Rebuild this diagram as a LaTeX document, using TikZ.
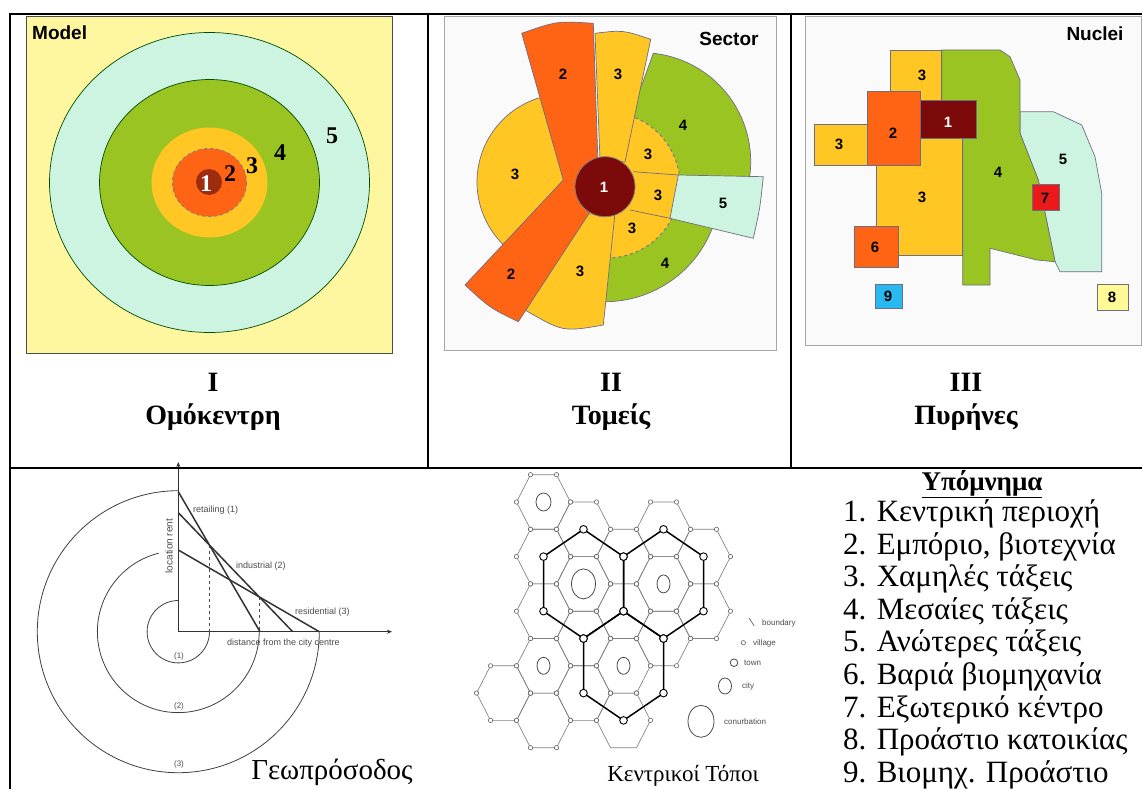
\documentclass[tikz,border=0pt]{standalone}
\usepackage{fontspec}
\setmainfont{Liberation Serif}
\setsansfont{Liberation Sans}
\usetikzlibrary{arrows.meta}
\definecolor{cYel}{RGB}{255,246,160}
\definecolor{cMint}{RGB}{204,244,224}
\definecolor{cGrn}{RGB}{153,196,33}
\definecolor{cOr}{RGB}{255,198,36}
\definecolor{cRed}{RGB}{255,99,20}
\definecolor{cBrn}{RGB}{158,45,15}
\definecolor{cMar}{RGB}{125,10,10}
\definecolor{cR7}{RGB}{235,25,25}
\definecolor{cBlu}{RGB}{40,185,240}
\definecolor{cPY}{RGB}{255,250,150}
\definecolor{cEdge}{RGB}{110,110,130}
\definecolor{cPanel}{RGB}{250,250,250}
\begin{document}
\begin{tikzpicture}[x=1pt,y=-1pt,
  rule/.style={line width=2pt,black},
  zone/.style={draw=cEdge,line width=0.7pt},
  mnum/.style={font=\bfseries\fontsize{24}{24}\selectfont,inner sep=0pt},
  snum/.style={font=\sffamily\bfseries\fontsize{15}{15}\selectfont,inner sep=0pt},
  ttl/.style={font=\sffamily\bfseries\fontsize{19}{19}\selectfont,inner sep=0pt},
  capt/.style={font=\bfseries\fontsize{28}{28}\selectfont,inner sep=0pt},
  lbl/.style={font=\fontsize{31}{31}\selectfont,inner sep=0pt},
  tinyl/.style={font=\sffamily\fontsize{9}{9}\selectfont,text=black!70,inner sep=0pt},
  thinhex/.style={draw=black!50,line width=0.65pt},
  mkt/.style={draw=black,line width=1.5pt},
  vil/.style={draw=black!60,fill=white,line width=0.6pt},
  town/.style={draw=black,fill=white,line width=0.9pt},
  cityc/.style={draw=black!70,line width=0.8pt},
  ring/.style={draw=black!75,line width=0.8pt},
  rentl/.style={draw=black!80,line width=1.5pt},
  axisl/.style={draw=black!80,line width=0.8pt,-{Stealth[length=5pt,width=4pt]}},
]
\useasboundingbox (0,0) rectangle (1142,789);
\fill[white] (0,0) rectangle (1142,789);

% ================= Model (concentric) =================
\filldraw[fill=cYel,draw=black!70,line width=0.8pt] (26,16) rectangle (392,353);
\filldraw[fill=cMint,draw=black!70!green,line width=0.7pt] (209.5,182.5) ellipse [x radius=160,y radius=150];
\filldraw[fill=cGrn,draw=black!70!green,line width=0.7pt] (209.5,182.5) ellipse [x radius=110,y radius=103];
\fill[cOr] (209.5,182.5) ellipse [x radius=58,y radius=55];
\fill[cRed] (209.5,182.5) ellipse [x radius=37,y radius=34];
\draw[black!50,dashed,line width=1pt] (209.5,182.5) ellipse [x radius=37,y radius=34];
\fill[cBrn] (209,182) circle (13);
\node[ttl,anchor=west] (mtitle) at (32,33) {Model};
\node[mnum,text=white] (m1) at (206,184) {1};
\node[mnum] (m2) at (230,174) {2};
\node[mnum] (m3) at (252,166) {3};
\node[mnum] (m4) at (280,153) {4};
\node[mnum] (m5) at (332,136) {5};

% ================= Sector =================
\filldraw[fill=cPanel,draw=black!35,line width=1pt] (444,17) rectangle (776,350);
\filldraw[fill=cOr,zone] (565,182) -- ++(-105:88) arc[start angle=-105,end angle=-228,radius=88] -- cycle;
\filldraw[fill=cGrn,zone] (605,186.7) -- (653.3,53.3) arc[start angle=-83.9,end angle=7.7,radius=109] -- cycle;
\filldraw[fill=cGrn,zone] (605,186.7) -- ++(15:115) arc[start angle=15,end angle=100,radius=115] -- cycle;
\fill[cOr] (607,185) -- ++(-72:73) arc[start angle=-72,end angle=95,radius=73] -- cycle;
\draw[black!50,dashed,line width=1.1pt] (607,185) ++(-72:73) arc[start angle=-72,end angle=95,radius=73];
\draw[zone] (633.3,171.7) -- (678.3,175);
\draw[zone] (630,210) -- (670,218.3);
\filldraw[fill=cMint,zone] (678.3,175) -- (763.3,176.7) .. controls (760,208) .. (753.3,238.3) -- (670,218.3) -- cycle;
\filldraw[fill=cOr,zone] (600,160) -- (595,33.3) .. controls (623,30) .. (650.7,39.3) -- (625,162) -- cycle;
\filldraw[fill=cOr,zone] (586.7,214) -- (525,310) .. controls (563,332) .. (603.3,325) -- (615,213) -- cycle;
\filldraw[fill=cRed,zone] (521.7,33.3) .. controls (557,21) .. (593.3,23.3) -- (598,165) -- (605,186.7) -- (588,215) -- (518.3,321.7) .. controls (490,308) .. (465,285) -- (563.3,180) -- cycle;
\filldraw[fill=cMar,draw=black!50,line width=0.8pt] (605,186.7) circle (30);
\node[ttl] (stitle) at (729,39) {Sector};
\node[snum] (s2a) at (563,74) {2};
\node[snum] (s3a) at (618,74) {3};
\node[snum] (s4a) at (683,125) {4};
\node[snum] (s3b) at (515,174) {3};
\node[snum] (s3c) at (648,154) {3};
\node[snum,text=white] (s1) at (604,187) {1};
\node[snum] (s3d) at (658,195) {3};
\node[snum] (s5) at (723,203) {5};
\node[snum] (s3e) at (632,228) {3};
\node[snum] (s4b) at (665,263) {4};
\node[snum] (s2b) at (511,274) {2};
\node[snum] (s3f) at (580,271) {3};

% ================= Nuclei =================
\filldraw[fill=cPanel,draw=black!35,line width=1pt] (805,17) rectangle (1141,345);
\filldraw[fill=cMint,zone] (1020,111.7) -- (1053.3,111.7) -- (1081.7,125) -- (1095,156.7) -- (1101.7,193.3) -- (1101.7,271.7) -- (1060,271.7) -- (1055,261.7) -- (1038.3,180) -- (1020,133.3) -- cycle;
\filldraw[fill=cGrn,zone] (941.7,50) -- (1000,50) -- (1010,56.7) -- (1020,80) -- (1020,133.3) -- (1038.3,180) -- (1055,261.7) -- (1036.7,260) -- (990,248.3) -- (990,285) -- (962.7,285) -- (962.7,110) -- (941.7,110) -- cycle;
\filldraw[fill=cOr,zone] (890,50) rectangle (941.7,100);
\filldraw[fill=cOr,zone] (876.7,138) rectangle (962.7,255);
\filldraw[fill=cOr,zone] (814.3,124) rectangle (867.3,165);
\filldraw[fill=cRed,zone] (867.3,91.7) rectangle (920,165);
\filldraw[fill=cMar,zone] (920,100) rectangle (976.7,138.3);
\filldraw[fill=cRed,zone] (854.3,226.7) rectangle (898.3,267.7);
\filldraw[fill=cR7,zone] (1032.3,184.3) rectangle (1059.3,210.7);
\filldraw[fill=cBlu,zone] (875,284) rectangle (902.3,308.3);
\filldraw[fill=cPY,zone] (1097.3,284.3) rectangle (1128.3,310.7);
\node[ttl] (ntitle) at (1095,34) {Nuclei};
\node[snum] (n3a) at (922,75) {3};
\node[snum] (n2) at (893,133) {2};
\node[snum,text=white] (n1) at (948,122) {1};
\node[snum] (n3b) at (839,144) {3};
\node[snum] (n3c) at (922,197) {3};
\node[snum] (n4) at (998,172) {4};
\node[snum] (n5) at (1063,159) {5};
\node[snum] (n7) at (1045,198) {7};
\node[snum] (n6) at (875,247) {6};
\node[snum] (n9) at (888,296) {9};
\node[snum] (n8) at (1112,297) {8};

% ================= captions top row =================
\node[capt] (c1a) at (213,382) {I};
\node[capt] (c1b) at (213,417) {Ομόκεντρη};
\node[capt] (c2a) at (611,382) {II};
\node[capt] (c2b) at (611,417) {Τομείς};
\node[capt] (c3a) at (966,382) {III};
\node[capt] (c3b) at (966,417) {Πυρήνες};

% ================= Bid rent =================
\coordinate (O) at (178.3,631.7);
\coordinate (ytop) at (178.3,462);
\coordinate (xend) at (392,631.7);
\draw[axisl] (O) -- (ytop);
\draw[axisl] (O) -- (xend);
\draw[ring] (178.3,600.5) arc[start angle=-90,end angle=-360,radius=31.2];
\draw[ring] (O) ++(-104:80.9) arc[start angle=-104,end angle=-360,radius=80.9];
\draw[ring] (178.3,490.7) arc[start angle=-90,end angle=-360,radius=141];
\draw[black!70,dashed,line width=0.8pt] (209.5,545.2) -- (209.5,631.7);
\draw[black!70,dashed,line width=0.8pt] (259.2,596.9) -- (259.2,631.7);
\draw[rentl] (178.3,491.7) -- (260,631.7);
\draw[rentl] (178.3,512.7) -- (292.7,631.7);
\draw[rentl] (178.3,550) -- (319.3,631.7);
\node[tinyl,anchor=west] (tret) at (193,510) {retailing (1)};
\node[tinyl,anchor=west] (tind) at (236,566) {industrial (2)};
\node[tinyl,anchor=west] (tres) at (295,612) {residential (3)};
\node[tinyl,anchor=west] (tdist) at (227,643) {distance from the city centre};
\node[tinyl,rotate=90,font=\sffamily\fontsize{10}{10}\selectfont] (trent) at (169,546) {location rent};
\node[tinyl,font=\sffamily\fontsize{8}{8}\selectfont] (r1) at (179,656) {(1)};
\node[tinyl,font=\sffamily\fontsize{8}{8}\selectfont] (r2) at (179,706) {(2)};
\node[tinyl,font=\sffamily\fontsize{8}{8}\selectfont] (r3) at (179,764) {(3)};
\node[inner sep=0pt,font=\fontsize{29}{29}\selectfont] (geo) at (332,772) {Γεωπρόσοδος};

% ================= Central places =================
\foreach \cx/\cy in {503.5/693.1, 543.5/502, 543.5/556.6, 543.5/611.2, 543.5/665.8, 543.5/720.4,
  583.5/529.3, 583.5/583.9, 583.5/638.5, 583.5/693.1, 623.5/556.6, 623.5/611.2, 623.5/665.8, 623.5/720.4,
  663.5/529.3, 663.5/583.9, 663.5/638.5, 703.5/556.6, 703.5/611.2}{
  \draw[thinhex] (\cx-13,\cy-27.3) -- (\cx+13,\cy-27.3) -- (\cx+27,\cy) -- (\cx+13,\cy+27.3) -- (\cx-13,\cy+27.3) -- (\cx-27,\cy) -- cycle;
}
\foreach \cx/\cy in {583.5/583.9, 663.5/583.9, 623.5/665.8}{
  \draw[mkt] (\cx,\cy-54.6) -- (\cx+40,\cy-27.3) -- (\cx+40,\cy+27.3) -- (\cx,\cy+54.6) -- (\cx-40,\cy+27.3) -- (\cx-40,\cy-27.3) -- cycle;
}
\foreach \cx/\cy in {503.5/693.1, 543.5/502, 543.5/556.6, 543.5/611.2, 543.5/665.8, 543.5/720.4,
  583.5/529.3, 583.5/583.9, 583.5/638.5, 583.5/693.1, 623.5/556.6, 623.5/611.2, 623.5/665.8,
  663.5/529.3, 663.5/583.9, 663.5/638.5, 703.5/556.6, 703.5/611.2}{
  \foreach \dx/\dy in {-13/-27.3, 13/-27.3, 27/0, 13/27.3, -13/27.3, -27/0}{
    \filldraw[vil] (\cx,\cy) ++(\dx,\dy) circle (2.2);
  }
}
\foreach \dx/\dy in {-13/-27.3, 13/-27.3, 27/0, -27/0}{
  \filldraw[vil] (623.5,720.4) ++(\dx,\dy) circle (2.2);
}
\foreach \cx/\cy in {583.5/583.9, 663.5/583.9, 623.5/665.8}{
  \foreach \dx/\dy in {0/-54.6, 40/-27.3, 40/27.3, 0/54.6, -40/27.3, -40/-27.3}{
    \filldraw[town] (\cx,\cy) ++(\dx,\dy) circle (3.8);
  }
}
\draw[cityc] (543.5,502) ellipse [x radius=7.5,y radius=9];
\draw[cityc] (583.5,583.9) ellipse [x radius=12,y radius=15];
\draw[cityc] (663.5,583.9) ellipse [x radius=6.5,y radius=9];
\draw[cityc] (543.5,665.8) ellipse [x radius=6.5,y radius=8.5];
\draw[cityc] (623.5,665.8) ellipse [x radius=6.5,y radius=8.5];
\draw[black!60,line width=0.7pt] (749,618) -- (754.3,626);
\node[tinyl,anchor=west,font=\sffamily\fontsize{8}{8}\selectfont] (kb) at (762,623.5) {boundary};
\filldraw[vil] (743.3,642.7) circle (2.2);
\node[tinyl,anchor=west,font=\sffamily\fontsize{8}{8}\selectfont] (kv) at (753,643) {village};
\filldraw[draw=black!70,fill=white,line width=0.8pt] (734,662.7) circle (3.8);
\node[tinyl,anchor=west,font=\sffamily\fontsize{8}{8}\selectfont] (kt) at (744,663) {town};
\draw[cityc] (725,686) ellipse [x radius=6.5,y radius=8];
\node[tinyl,anchor=west,font=\sffamily\fontsize{8}{8}\selectfont] (kc) at (742,686) {city};
\draw[cityc] (701,721.3) ellipse [x radius=13,y radius=16];
\node[tinyl,anchor=west,font=\sffamily\fontsize{8}{8}\selectfont] (kcon) at (724,721.5) {conurbation};
\node[inner sep=0pt,font=\fontsize{23}{23}\selectfont] (kent) at (683,776) {Κεντρικοί Τόποι};

% ================= Legend =================
\node[inner sep=0pt,anchor=base,font=\bfseries\fontsize{27}{27}\selectfont] (leg) at (982,490) {\underline{Υπόμνημα}};
\node[lbl,anchor=base west] (l1) at (843,521.5) {1. Κεντρική περιοχή};
\node[lbl,anchor=base west] (l2) at (843,554.1) {2. Εμπόριο, βιοτεχνία};
\node[lbl,anchor=base west] (l3) at (843,586.7) {3. Χαμηλές τάξεις};
\node[lbl,anchor=base west] (l4) at (843,619.3) {4. Μεσαίες τάξεις};
\node[lbl,anchor=base west] (l5) at (843,651.9) {5. Ανώτερες τάξεις};
\node[lbl,anchor=base west] (l6) at (843,684.5) {6. Βαριά βιομηχανία};
\node[lbl,anchor=base west] (l7) at (843,717.1) {7. Εξωτερικό κέντρο};
\node[lbl,anchor=base west] (l8) at (843,749.7) {8. Προάστιο κατοικίας};
\node[lbl,anchor=base west] (l9) at (843,782.3) {9. Βιομηχ. Προάστιο};

% ================= Table rules =================
\draw[rule] (10,14) -- (1142,14);
\draw[rule] (10,13) -- (10,789);
\draw[rule] (10,468) -- (1142,468);
\draw[rule] (428,14) -- (428,468);
\draw[rule] (791,14) -- (791,468);
\end{tikzpicture}
\end{document}
